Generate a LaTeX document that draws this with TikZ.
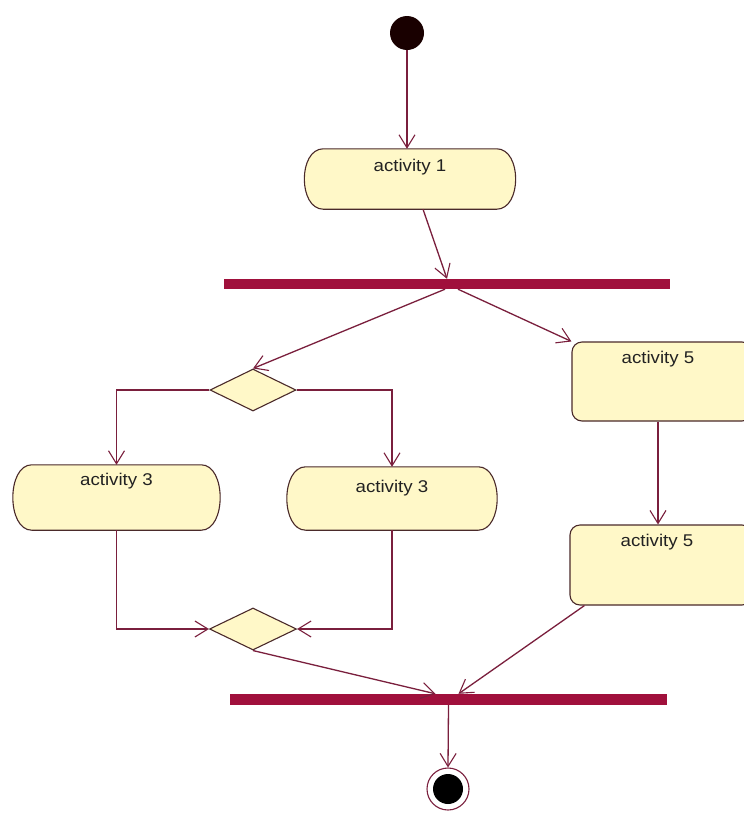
\documentclass[tikz,border=0pt]{standalone}
\usepackage{fontspec}
\setmainfont{Liberation Sans}[FakeStretch=1.1]
\usetikzlibrary{shapes.geometric,arrows.meta,calc}
\definecolor{edgecol}{HTML}{7A1F3D}
\definecolor{outlinecol}{HTML}{4A2A2A}
\definecolor{boxfill}{HTML}{FFF8C8}
\definecolor{barcol}{HTML}{A0103C}
\definecolor{txtcol}{HTML}{222222}
\tikzset{
  conn/.style={draw=edgecol, line width=1.3pt, -{Straight Barb[length=13pt,width=16pt,line width=1.1pt]}},
  actframe/.style={draw=none, fill=none, inner sep=0pt},
  actline/.style={draw=outlinecol, fill=boxfill, line width=1.1pt},
  sqbox/.style={draw=outlinecol, fill=boxfill, line width=1.1pt, rounded corners=10pt, inner sep=0pt},
  choice/.style={diamond, draw=outlinecol, fill=boxfill, line width=1.1pt, inner sep=0pt},
  syncbar/.style={fill=barcol, inner sep=0pt, draw=none},
  acttext/.style={text=txtcol, font=\fontsize{17}{19}\selectfont, anchor=north, inner sep=0pt},
}
% draws the activity outline (flat top/bottom, bulging ends) round a named node
\newcommand\actoutline[1]{%
  \path[actline]
    ($(#1.north west)+(19,0)$) -- ($(#1.north east)+(-19,0)$)
    .. controls ($(#1.north east)+(6.3,0)$) and ($(#1.south east)+(6.3,0)$) .. ($(#1.south east)+(-19,0)$)
    -- ($(#1.south west)+(19,0)$)
    .. controls ($(#1.south west)+(-6.3,0)$) and ($(#1.north west)+(-6.3,0)$) .. cycle;}
\begin{document}
\begin{tikzpicture}[x=1pt,y=-1pt]
\clip (0,0) rectangle (744,814);
\fill[white] (0,0) rectangle (744,814);
% nodes
\node[circle, fill=black!90!red, minimum size=34pt, inner sep=0pt] (start) at (407,33) {};
\node[actframe, minimum width=211pt, minimum height=60pt] (a1) at (410,179) {};
\actoutline{a1}
\node[acttext] (t1) at ($(a1.north)+(0,10)$) {activity 1};
\node[syncbar, minimum width=446pt, minimum height=10pt] (fork) at (447,284) {};
\node[choice, minimum width=86pt, minimum height=42pt] (d1) at (253,390) {};
\node[actframe, minimum width=207pt, minimum height=65pt] (a3a) at (116.5,497.5) {};
\actoutline{a3a}
\node[acttext] (t3a) at ($(a3a.north)+(0,8)$) {activity 3};
\node[actframe, minimum width=210pt, minimum height=63pt] (a3b) at (392,498.5) {};
\actoutline{a3b}
\node[acttext] (t3b) at ($(a3b.north)+(0,13)$) {activity 3};
\node[sqbox, minimum width=180pt, minimum height=79pt] (a5a) at (662,381.5) {};
\node[acttext] (t5a) at ($(a5a.north)+(-4,10)$) {activity 5};
\node[sqbox, minimum width=182pt, minimum height=80pt] (a5b) at (661,565) {};
\node[acttext] (t5b) at ($(a5b.north)+(-4,10)$) {activity 5};
\node[choice, minimum width=87pt, minimum height=42pt] (d2) at (253,629) {};
\node[syncbar, minimum width=437pt, minimum height=11pt] (join) at (448.5,699.5) {};
\node[circle, draw=edgecol, line width=1.1pt, fill=white, minimum size=42pt, inner sep=0pt,
  path picture={\fill[black] (path picture bounding box.center) circle (15pt);}] (final) at (448,789) {};
% connectors
\coordinate (a1out) at ($(a1.south)+(13,0)$);
\coordinate (forkL) at ($(fork.south)+(-2,0)$);
\coordinate (forkR) at ($(fork.south)+(11,0)$);
\coordinate (joinL) at ($(join.north)+(-13,0)$);
\coordinate (joinR) at ($(join.north)+(10,0)$);
\coordinate (a5aout) at (t5a |- a5a.south);
\coordinate (a5bin) at (t5a |- a5b.north);
\coordinate (a5bout) at ($(a5b.south west)+(15,0)$);
\draw[conn] (start) -- (start |- a1.north);
\draw[conn] (a1out) -- (fork.north);
\draw[conn] (forkL) -- (d1.north);
\draw[conn] (forkR) -- (a5a.north west);
\draw[conn] (d1.west) -| (a3a.north);
\draw[conn] (d1.east) -| (a3b.north);
\draw[conn] (a5aout) -- (a5bin);
\draw[conn] (a3a.south) |- (d2.west);
\draw[conn] (a3b.south) |- (d2.east);
\draw[conn] (d2.south) -- (joinL);
\draw[conn] (a5bout) -- (joinR);
\draw[conn] (join.south) -- (final.north);
\end{tikzpicture}
\end{document}
